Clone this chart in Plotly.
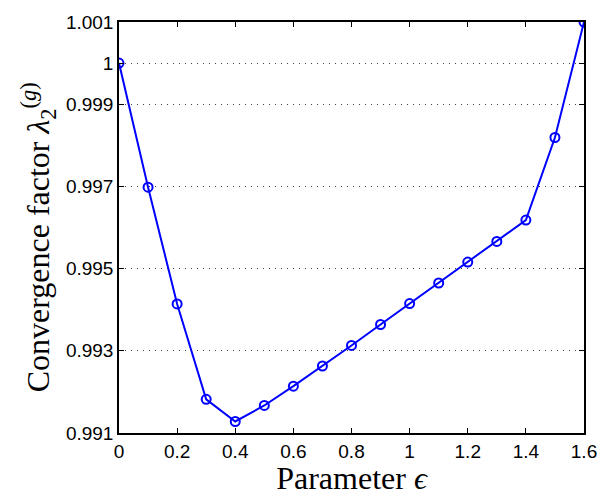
import plotly.graph_objects as go

eps = [0.0, 0.1, 0.2, 0.3, 0.4, 0.5, 0.6, 0.7, 0.8, 0.9, 1.0, 1.1, 1.2, 1.3, 1.4, 1.5, 1.6]
lam = [1.0000, 0.99698, 0.99414, 0.99182, 0.99128, 0.99167, 0.99214, 0.99263, 0.99313,
       0.99364, 0.99415, 0.99465, 0.99516, 0.99566, 0.99618, 0.99819, 1.0010]

xticks = [0, 0.2, 0.4, 0.6, 0.8, 1.0, 1.2, 1.4, 1.6]
xticklabels = ["0", "0.2", "0.4", "0.6", "0.8", "1", "1.2", "1.4", "1.6"]
yticks = [0.991, 0.993, 0.995, 0.997, 0.999, 1.0, 1.001]
yticklabels = ["0.991", "0.993", "0.995", "0.997", "0.999", "1", "1.001"]

fig = go.Figure()
fig.add_trace(go.Scatter(
    x=eps, y=lam, mode="lines+markers",
    line=dict(color="#0000ff", width=2),
    marker=dict(symbol="circle-open", size=9, color="#0000ff", line=dict(width=2, color="#0000ff")),
    showlegend=False,
))

tickfont = dict(family="Liberation Sans, Arial, sans-serif", size=19, color="black")
titlefont = dict(family="Liberation Serif, Times New Roman, serif", size=32, color="black")

fig.update_layout(
    width=609, height=496,
    margin=dict(l=119, r=16, t=18, b=62),
    paper_bgcolor="white", plot_bgcolor="white",
    xaxis=dict(
        range=[0, 1.6], tickvals=xticks, ticktext=xticklabels,
        showline=True, linecolor="black", linewidth=1.5, mirror="ticks",
        ticks="inside", ticklen=5, tickcolor="black", showgrid=False, zeroline=False,
        tickfont=tickfont,
        title=dict(text="Parameter <i>ϵ</i>", font=titlefont, standoff=0),
    ),
    yaxis=dict(
        range=[0.991, 1.001], tickvals=yticks, ticktext=yticklabels,
        showline=True, linecolor="black", linewidth=1.5, mirror="ticks",
        ticks="inside", ticklen=5, tickcolor="black",
        showgrid=True, gridcolor="#444444", griddash="1px,5px", gridwidth=1, zeroline=False,
        tickfont=tickfont,
    ),
    annotations=[dict(
        text="Convergence factor <i>λ</i><sub>2</sub><sup>(<i>g</i>)</sup>",
        font=titlefont, textangle=-90, showarrow=False,
        xref="paper", yref="paper", x=-0.173, y=0.475,
        xanchor="center", yanchor="middle",
    )],
)

fig.write_html("out.html")
